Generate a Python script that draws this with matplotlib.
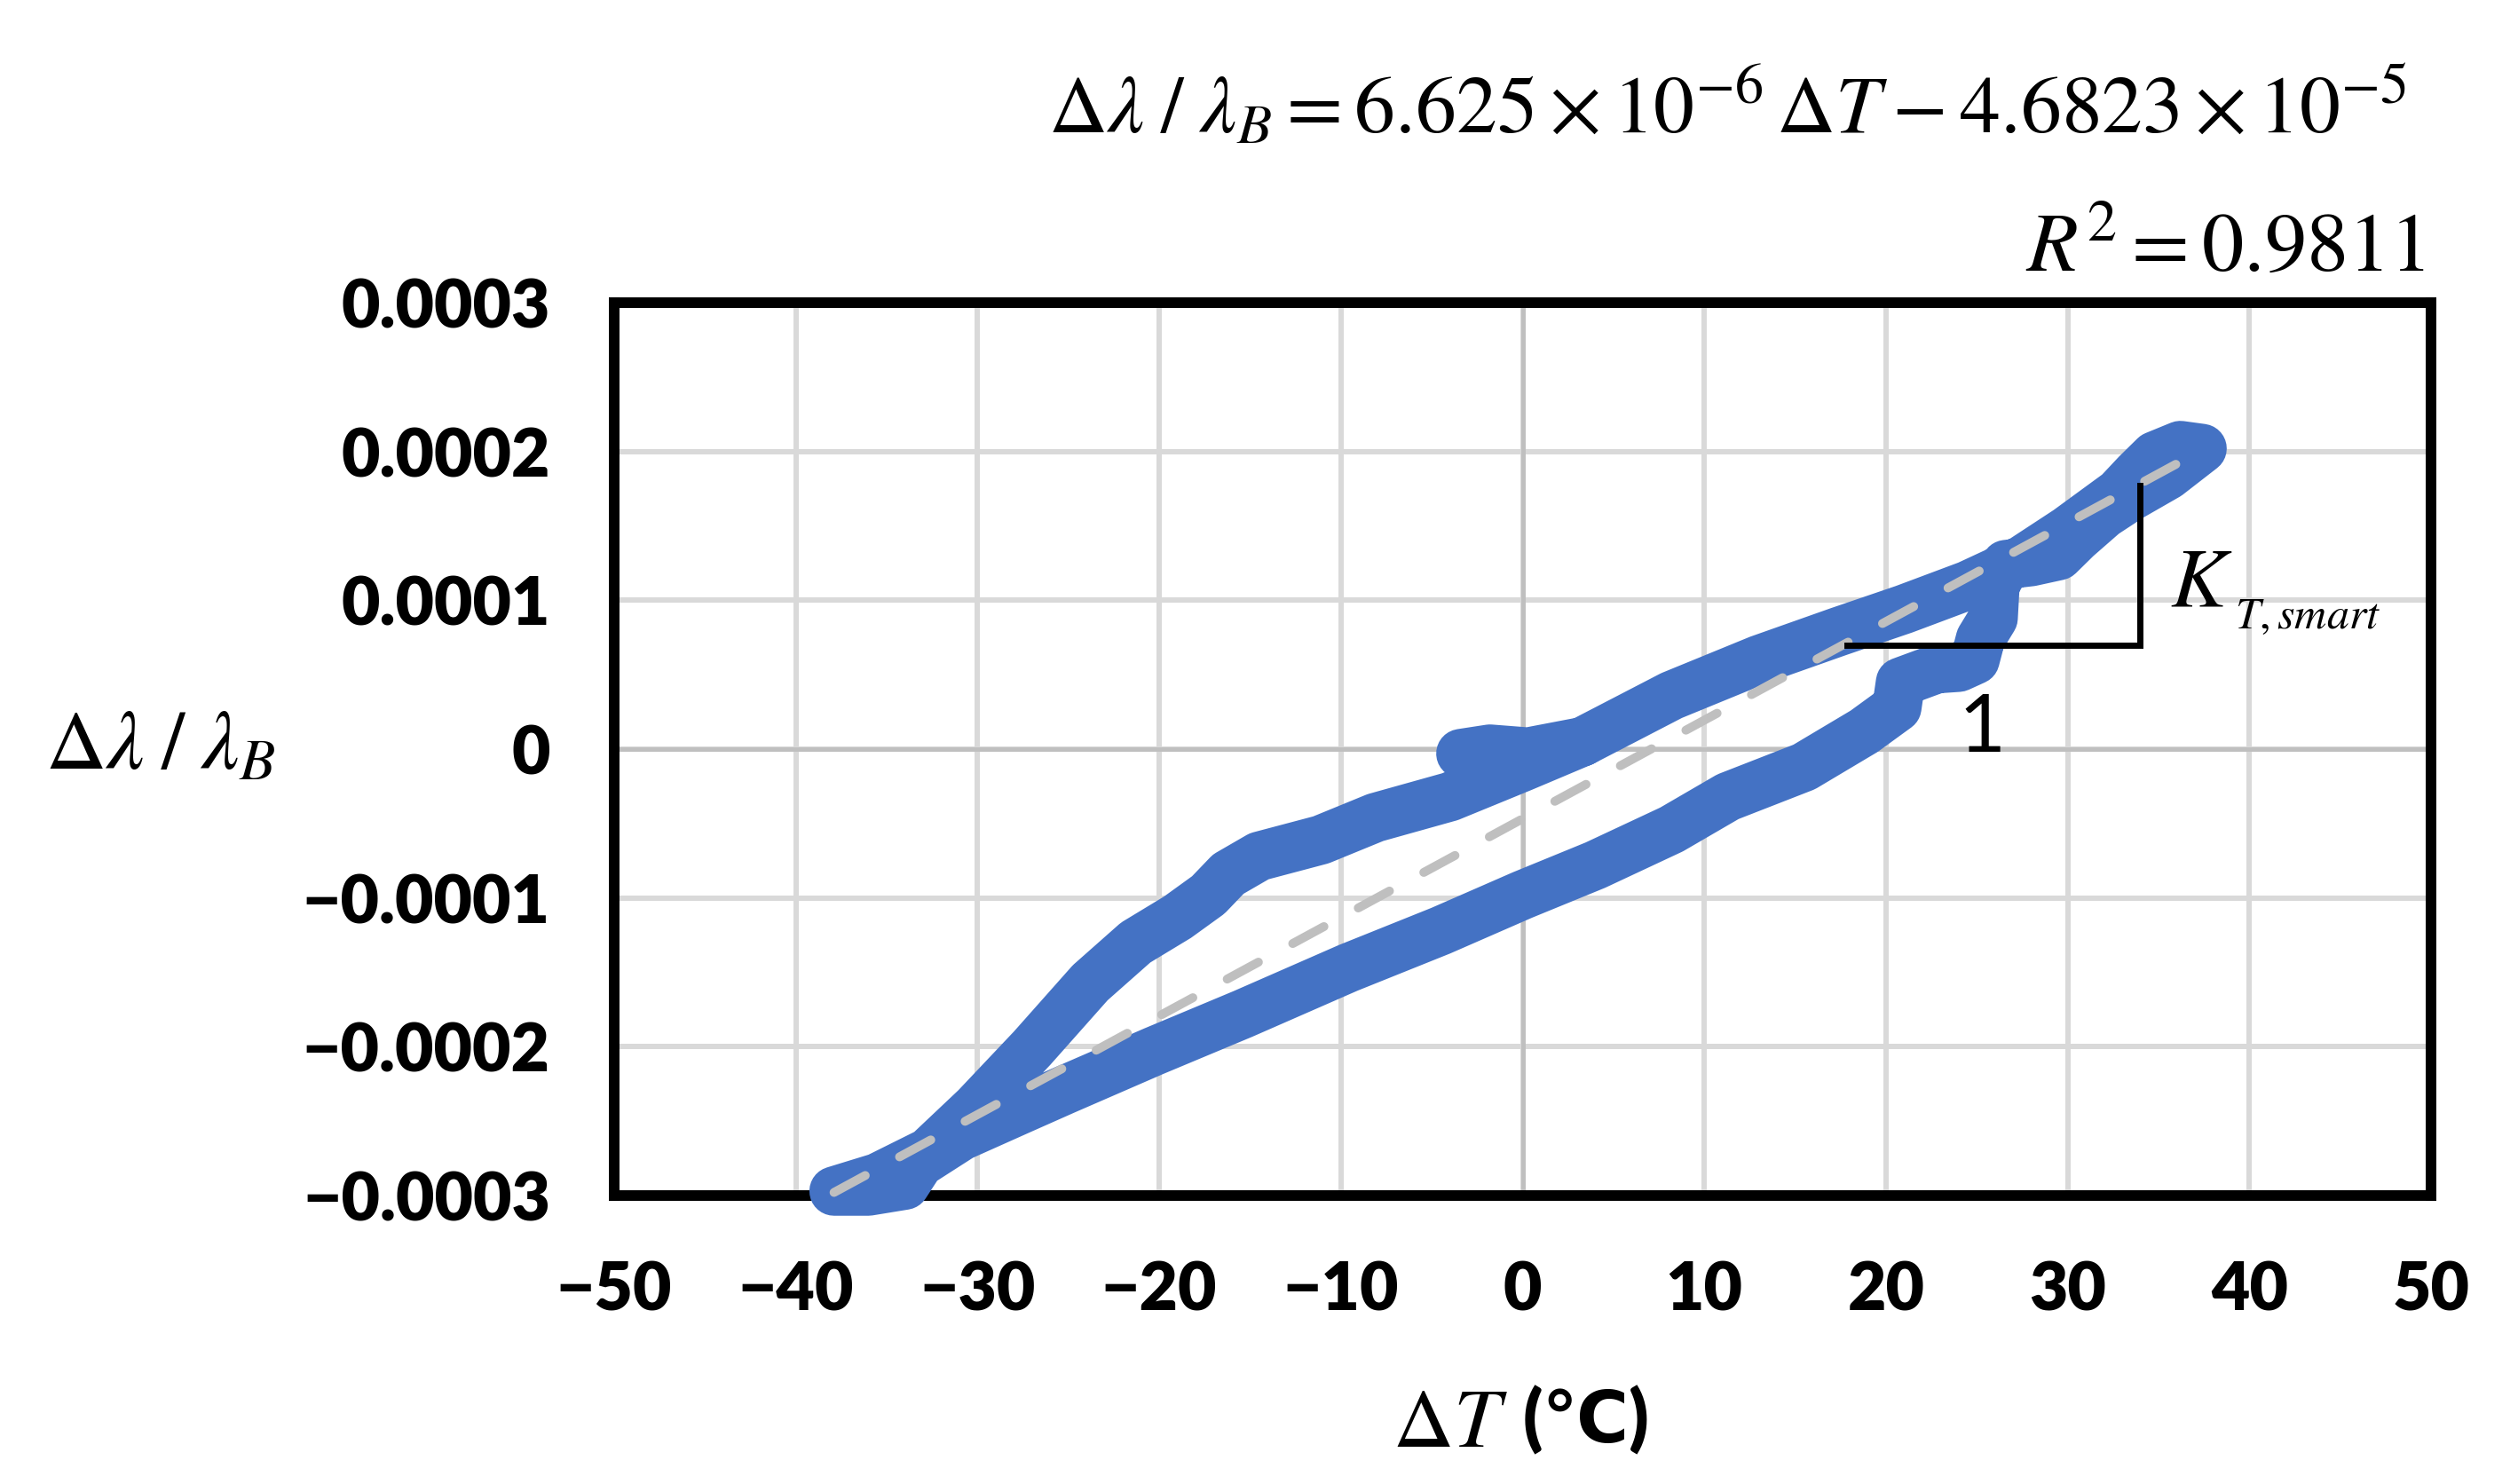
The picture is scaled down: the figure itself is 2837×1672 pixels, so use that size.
import numpy as np
import matplotlib
matplotlib.use('Agg')
import matplotlib.pyplot as plt

plt.rcParams['mathtext.fontset'] = 'stix'

# hysteresis loop: temperature change (degC) and
# relative wavelength shift (in units of 1e-4)
dT_loop = np.array([
    -3.4, -1.8, 0.3,
    3.3, 8.2, 13.0, 17.4, 21.0, 24.5, 27.5, 30.0, 32.8, 33.8, 34.8, 36.2, 37.4,
    35.5, 33.5, 32.0, 30.5, 29.5, 28.0, 26.6, 26.0, 25.9, 25.2, 24.9, 24.0,
    22.8, 20.8, 20.6, 18.8, 15.5, 11.3, 8.2, 4.0, 0.0, -4.5, -9.6, -15.4,
    -20.3, -25.2, -27.6, -30.9, -33.2, -34.0, -36.0, -37.9,
    -35.5, -32.7, -30.1, -27.0, -23.8, -21.3, -19.0, -17.3, -16.2, -14.5,
    -11.1, -8.1, -4.0, 0.0, 3.3,
])
shift_loop = np.array([
    -0.03, 0.0, -0.02,
    0.05, 0.36, 0.60, 0.79, 0.94, 1.10, 1.27, 1.47, 1.72, 1.85, 1.97, 2.04, 2.02,
    1.84, 1.70, 1.58, 1.42, 1.30, 1.26, 1.24, 1.10, 0.88, 0.74, 0.60, 0.55,
    0.54, 0.45, 0.28, 0.12, -0.12, -0.32, -0.54, -0.78, -0.98, -1.22, -1.47, -1.78,
    -2.03, -2.29, -2.42, -2.60, -2.78, -2.93, -2.97, -2.97,
    -2.88, -2.71, -2.41, -2.01, -1.57, -1.30, -1.13, -0.98, -0.84, -0.72,
    -0.61, -0.46, -0.32, -0.12, 0.05,
]) * 1e-4

# linear fit given on the chart
slope = 6.625e-6
intercept = -4.6823e-5
r2 = 0.9811

x_ticks = np.arange(-50, 51, 10)
y_ticks = np.array([-0.0003, -0.0002, -0.0001, 0.0, 0.0001, 0.0002, 0.0003])
x_tick_labels = [str(v).replace('-', '\u2212') for v in x_ticks]
y_tick_labels = ['\u22120.0003', '\u22120.0002', '\u22120.0001', '0',
                 '0.0001', '0.0002', '0.0003']

W, H = 2837, 1672
sans = ['Lato', 'DejaVu Sans']

fig = plt.figure(figsize=(W / 100, H / 100), dpi=100)
ax = fig.add_axes([692 / W, 1 - 1347 / H, (2739 - 692) / W, (1347 - 341) / H])
ax.set_xlim(-50, 50)
ax.set_ylim(-0.0003, 0.0003)

ax.set_xticks(x_ticks)
ax.set_yticks(y_ticks)
ax.set_xticklabels(x_tick_labels, fontfamily=sans, fontweight='heavy', fontsize=54)
ax.set_yticklabels(y_tick_labels, fontfamily=sans, fontweight='heavy', fontsize=54)
ax.tick_params(length=0, pad=52)
ax.set_axisbelow(True)
ax.grid(color='#D9D9D9', lw=4.3)
ax.axhline(0, color='#BFBFBF', lw=3.5, zorder=1)
ax.axvline(0, color='#BFBFBF', lw=3.5, zorder=1)
for sp in ax.spines.values():
    sp.set_linewidth(8.6)
    sp.set_color('black')

# measured loop
ax.plot(dT_loop, shift_loop, color='#4472C4', lw=40, solid_capstyle='round',
        solid_joinstyle='round', zorder=3, clip_on=False)

# trend line
xs = np.array([dT_loop.min(), dT_loop.max()])
tl, = ax.plot(xs, slope * xs + intercept, color='#BFBFBF', lw=7.2, zorder=4,
              dash_capstyle='round', clip_on=False)
tl.set_dashes((4, 4.4))

# slope triangle
ax.plot([17.85, 33.98, 33.98], [0.70e-4, 0.70e-4, 1.77e-4], color='black',
        lw=5, zorder=5, solid_joinstyle='miter')
ax.text(35.64, 0.96e-4, r'$K$', fontsize=68, ha='left', va='baseline', zorder=6)
ax.text(39.2, 0.81e-4, r'$T,smart$', fontsize=36, ha='left', va='baseline', zorder=6)
ax.text(25.3, -0.02e-4, '1', fontsize=66, fontfamily=sans, ha='center',
        va='baseline', zorder=6)

# equation and R^2
fig.text(2712 / W, 1 - 150 / H,
         r'$\Delta\lambda\;/\;\lambda_B=6.625\times10^{-6}\,\Delta T-4.6823\times10^{-5}$',
         fontsize=66, ha='right', va='baseline')
fig.text(2732 / W, 1 - 305 / H, r'$R^2=%.4f$' % r2, fontsize=68, ha='right',
         va='baseline')

# axis titles
fig.text(51 / W, 1 - 866 / H, r'$\Delta\lambda\;/\;\lambda_B$', fontsize=68,
         ha='left', va='baseline')
fig.text(1699 / W, 1 - 1630 / H, r'$\Delta T$', fontsize=68, ha='right',
         va='baseline')
fig.text(1716 / W, 1 - 1625 / H, '(\u2103)', fontsize=58, fontweight='heavy',
         fontfamily=sans, ha='left', va='baseline')

fig.savefig('out.png', dpi=100)
